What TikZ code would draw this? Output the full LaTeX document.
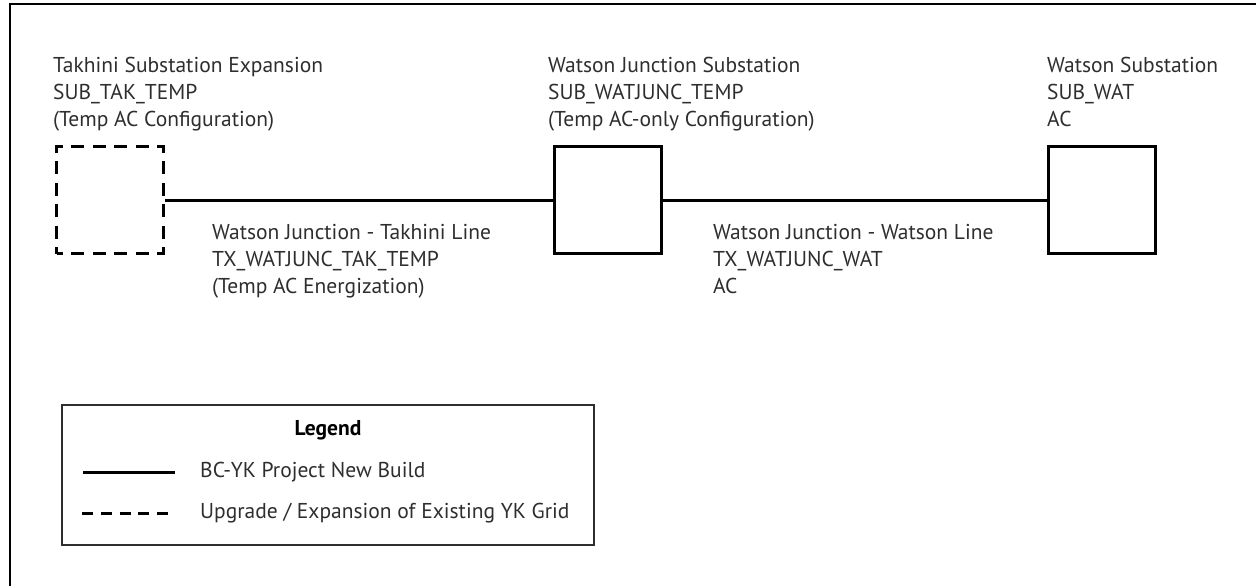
\documentclass[tikz,border=0pt]{standalone}
\usepackage{fontspec}
\setmainfont{PT Sans}
\definecolor{txt}{HTML}{2E2E2E}
\begin{document}
\begin{tikzpicture}[x=1pt,y=-1pt,
  lbl/.style={anchor=north west, inner sep=0pt, align=left, text=txt,
    font=\fontsize{21.5}{27}\selectfont},
  sub/.style={draw, line width=3pt, minimum width=107pt, minimum height=107pt, inner sep=0pt},
  dsub/.style={sub, dash pattern=on 13pt off 8.4pt, dash phase=6.5pt},
  tline/.style={line width=3pt},
  dline/.style={line width=3pt, dash pattern=on 11pt off 7.75pt}]
\useasboundingbox (0,0) rectangle (1256,586);
\draw[line width=2pt] (10,587) -- (10,4) -- (1257,4);
% substations
\node[dsub] (tak) at (110,200) {};
\node[sub] (junc) at (607.5,200) {};
\node[sub] (wat) at (1101.5,200) {};
\draw[tline] (tak.east) -- (junc.west);
\draw[tline] (junc.east) -- (wat.west);
% labels
\node[lbl] (takT) at (53,57) {Takhini Substation Expansion\\SUB\_TAK\_TEMP\\(Temp AC Configuration)};
\node[lbl] (juncT) at (548,57) {Watson Junction Substation\\SUB\_WATJUNC\_TEMP\\(Temp AC-only Configuration)};
\node[lbl] (watT) at (1047,57) {Watson Substation\\SUB\_WAT\\AC};
\node[lbl] (l1T) at (212,224) {Watson Junction - Takhini Line\\TX\_WATJUNC\_TAK\_TEMP\\(Temp AC Energization)};
\node[lbl] (l2T) at (713,224) {Watson Junction - Watson Line\\TX\_WATJUNC\_WAT\\AC};
% legend
\node[draw=txt, line width=1.5pt, minimum width=532pt, minimum height=140pt, inner sep=0pt] (leg) at (328,475) {};
\node[font=\fontsize{21.5}{27}\selectfont\bfseries, text=black, inner sep=0pt] (legT) at (328,430) {Legend};
\coordinate (s1) at (83,472);
\coordinate (s2) at (175,472);
\coordinate (d1) at (82,513);
\coordinate (d2) at (168,513);
\draw[tline] (s1) -- (s2);
\draw[dline] (d1) -- (d2);
\node[lbl, anchor=west] (legA) at (200,472) {BC-YK Project New Build};
\node[lbl, anchor=west] (legB) at (200,513) {Upgrade / Expansion of Existing YK Grid};
\end{tikzpicture}
\end{document}
